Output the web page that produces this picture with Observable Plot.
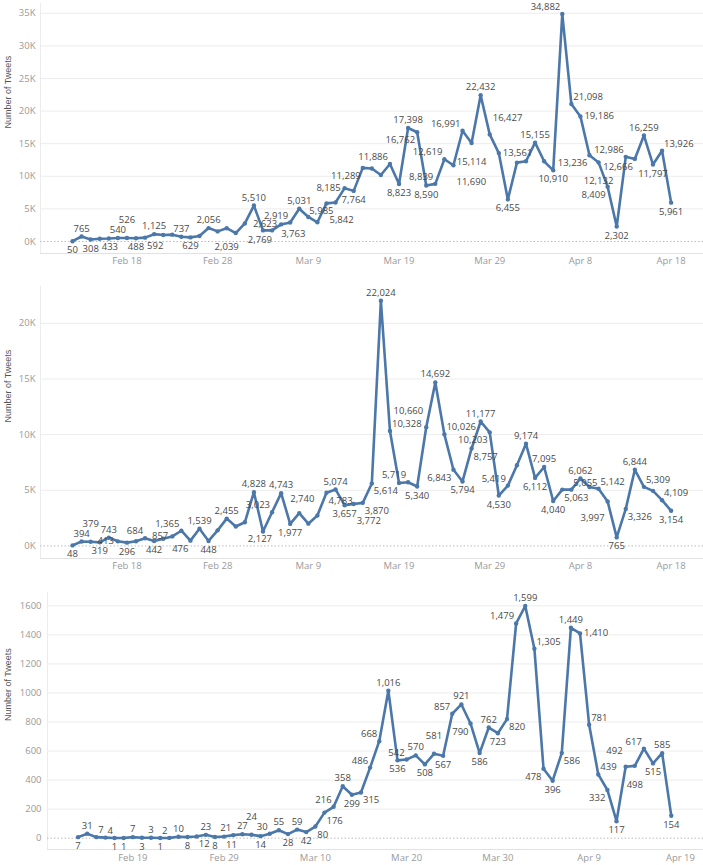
<!DOCTYPE html>
<html>
<head>
<meta charset="utf-8">
<script src="https://cdn.jsdelivr.net/npm/d3@7"></script>
<script src="https://cdn.jsdelivr.net/npm/@observablehq/plot@0.6"></script>
<style>
  body { margin: 0; background: #fff; }
  #chart { width: 703px; }
  #chart svg { display: block; }
</style>
</head>
<body>
<div id="chart"></div>
<script>
// ---------- Data ----------
const yTitle = "Number of Tweets";

// Panel 1 (daily, starting 2020-02-12)
const start1 = "2020-02-12";
const values1 = [50,765,308,433,470,540,526,488,592,1125,1000,1050,737,629,850,2056,1550,2039,
  1300,2769,5510,1700,1700,2623,2919,5031,3763,2950,5842,5985,8185,7764,11289,11200,10200,11886,8823,17398,16762,8590,8839,12619,11690,16991,15114,22432,16427,13561,6455,
  12100,12300,15155,12300,10910,34882,21098,19186,13236,12132,8409,2302,12986,12666,16259,11797,13926,5961];
const unlabeled1 = ["2020-02-16","2020-02-22","2020-02-23","2020-02-26","2020-02-28","2020-03-01","2020-03-04","2020-03-05","2020-03-10","2020-03-16","2020-03-17","2020-04-01","2020-04-02","2020-04-04"];
const xTicks1 = ["2020-02-18","2020-02-28","2020-03-09","2020-03-19","2020-03-29","2020-04-08","2020-04-18"];
const yTicks1 = [0,5000,10000,15000,20000,25000,30000,35000];

// Panel 2 (daily, starting 2020-02-12)
const start2 = "2020-02-12";
const values2 = [48,394,379,319,743,413,296,420,684,442,650,857,1365,476,1539,448,1400,2455,
  1750,2127,4828,1300,3023,4743,1977,2950,2000,2740,4783,5074,3657,3772,3870,5614,22024,10328,5650,5719,5340,10660,14692,10026,6843,5794,8757,11177,10203,4530,5419,
  7250,9174,6112,7095,4040,5063,5055,6062,5300,5142,3997,765,3326,6844,5309,4950,4109,3154];
const unlabeled2 = ["2020-02-19","2020-02-22","2020-02-28","2020-03-01","2020-03-04","2020-03-08","2020-03-09","2020-03-19","2020-04-01","2020-04-09","2020-04-16"];
const xTicks2 = ["2020-02-18","2020-02-28","2020-03-09","2020-03-19","2020-03-29","2020-04-08","2020-04-18"];
const yTicks2 = [0,5000,10000,15000,20000];

// Panel 3 (daily, starting 2020-02-13)
const start3 = "2020-02-13";
const values3 = [7,31,7,4,1,1,7,3,3,1,2,10,8,12,23,8,11,
  21,27,24,14,30,55,28,59,42,80,176,216,358,299,315,486,668,1016,536,542,570,508,581,567,857,921,790,586,762,723,820,
  1479,1599,1305,478,396,586,1449,1410,781,439,332,117,492,498,617,515,585,154];
const unlabeled3 = [];
const xTicks3 = ["2020-02-19","2020-02-29","2020-03-10","2020-03-20","2020-03-30","2020-04-09","2020-04-19"];
const yTicks3 = [0,200,400,600,800,1000,1200,1400,1600];

// ---------- Drawing ----------
const LINE = "#4b77a9";
const parse = s => new Date(s + "T00:00:00Z");
const DAY = 864e5;
const fmtKey = d3.utcFormat("%Y-%m-%d");
const fmtTick = d3.utcFormat("%b %-d");
const fmt = d3.format(",");
const FONT = "'Open Sans', sans-serif";
const LABEL_SIZE = 9.5;
const TICK_SIZE = 9.5;

// candidate label placements: offset from point, text anchor
const CANDS = {
  A:   {dx: 0,  dy: -8,  anchor: "middle"},
  B:   {dx: 0,  dy: 9,   anchor: "middle"},
  L:   {dx: -4, dy: 0,   anchor: "end"},
  R:   {dx: 4,  dy: 0,   anchor: "start"},
  UL:  {dx: -2, dy: -7,  anchor: "end"},
  UR:  {dx: 2,  dy: -7,  anchor: "start"},
  LL:  {dx: -2, dy: 8,   anchor: "end"},
  LR:  {dx: 2,  dy: 8,   anchor: "start"},
  A2:  {dx: 0,  dy: -18, anchor: "middle"},
  B2:  {dx: 0,  dy: 19,  anchor: "middle"},
  UL2: {dx: -3, dy: -16, anchor: "end"},
  UR2: {dx: 3,  dy: -16, anchor: "start"},
  LL2: {dx: -3, dy: 17,  anchor: "end"},
  LR2: {dx: 3,  dy: 17,  anchor: "start"}
};
const ORDER = {
  peak:    ["A", "UL", "UR", "L", "R", "LL", "LR", "B", "A2", "UL2", "UR2", "B2", "LL2", "LR2"],
  valley:  ["B", "LL", "LR", "L", "R", "UL", "UR", "A", "B2", "LL2", "LR2", "A2", "UL2", "UR2"],
  rising:  ["UL", "L", "LR", "A", "B", "R", "UR", "LL", "UL2", "LR2", "A2", "B2", "UR2", "LL2"],
  falling: ["UR", "R", "LL", "A", "B", "L", "UL", "LR", "UR2", "LL2", "A2", "B2", "UL2", "LR2"]
};

function segHitsRect(x1, y1, x2, y2, r) {
  let t0 = 0, t1 = 1;
  const dx = x2 - x1, dy = y2 - y1;
  const p = [-dx, dx, -dy, dy];
  const q = [x1 - r.x0, r.x1 - x1, y1 - r.y0, r.y1 - y1];
  for (let i = 0; i < 4; i++) {
    if (p[i] === 0) { if (q[i] < 0) return false; }
    else {
      const t = q[i] / p[i];
      if (p[i] < 0) { if (t > t1) return false; if (t > t0) t0 = t; }
      else { if (t < t0) return false; if (t < t1) t1 = t; }
    }
  }
  return true;
}
function overlapArea(a, b) {
  const w = Math.min(a.x1, b.x1) - Math.max(a.x0, b.x0);
  const h = Math.min(a.y1, b.y1) - Math.max(a.y0, b.y0);
  return w > 0 && h > 0 ? w * h : 0;
}

function placeLabels(data, xs, ys, bounds, obstacles) {
  const ctx = document.createElement("canvas").getContext("2d");
  ctx.font = LABEL_SIZE + "px " + FONT;
  const pts = data.map(d => [xs.apply(d.date), ys.apply(d.v)]);
  const placed = obstacles.slice();
  const idx = data.map((d, i) => i).filter(i => data[i].show);
  const prom = i => {
    const p = i > 0 ? pts[i - 1][1] : pts[i][1], n = i < pts.length - 1 ? pts[i + 1][1] : pts[i][1];
    return Math.abs(pts[i][1] - p) + Math.abs(pts[i][1] - n);
  };
  idx.sort((a, b) => {
    const ea = data[a].shape === "peak" || data[a].shape === "valley";
    const eb = data[b].shape === "peak" || data[b].shape === "valley";
    if (ea !== eb) return ea ? -1 : 1;
    return prom(b) - prom(a);
  });
  const half = LABEL_SIZE * 0.66;
  for (const i of idx) {
    const d = data[i];
    const w = ctx.measureText(fmt(d.v)).width + 2;
    const [px, py] = pts[i];
    let best = null, bestCost = Infinity;
    ORDER[d.shape].forEach((k, rank) => {
      const c = CANDS[k];
      const x = px + c.dx, y = py + c.dy;
      const x0 = c.anchor === "middle" ? x - w / 2 : c.anchor === "end" ? x - w : x;
      const r = {x0, x1: x0 + w, y0: y - half, y1: y + half};
      let cost = rank * 0.8;
      for (const q of placed) cost += overlapArea(r, q) * 20;
      const core = {x0: r.x0, x1: r.x1, y0: y - 3.5, y1: y + 3.5};
      for (let j = 1; j < pts.length; j++) {
        if (segHitsRect(pts[j - 1][0], pts[j - 1][1], pts[j][0], pts[j][1], core)) cost += 30;
      }
      for (const q of pts) {
        if (q[0] > core.x0 - 2 && q[0] < core.x1 + 2 && q[1] > core.y0 - 2 && q[1] < core.y1 + 2) cost += 15;
      }
      if (r.x0 < bounds.x0 || r.x1 > bounds.x1 || r.y0 < bounds.y0 || r.y1 > bounds.y1) cost += 300;
      if (cost < bestCost) { bestCost = cost; best = {k, r}; }
    });
    d.pos = best.k;
    placed.push(best.r);
  }
}

function panel(cfg) {
  const s = parse(cfg.start);
  const data = cfg.values.map((v, i) => ({date: d3.utcDay.offset(s, i), v}));
  const hide = new Set(cfg.unlabeled);
  data.forEach((d, i) => {
    const p = i > 0 ? data[i - 1].v : null;
    const n = i < data.length - 1 ? data[i + 1].v : null;
    d.show = !hide.has(fmtKey(d.date));
    if ((p === null || d.v >= p) && (n === null || d.v >= n)) d.shape = "peak";
    else if ((p === null || d.v <= p) && (n === null || d.v <= n)) d.shape = "valley";
    else if (p < d.v) d.shape = "rising";
    else d.shape = "falling";
  });
  const xDomain = [new Date(+s - cfg.padL * DAY), new Date(+s + cfg.padR * DAY)];
  const tickDates = cfg.xTicks.map(parse);
  const base = {
    width: 703,
    height: cfg.height,
    marginLeft: cfg.ml, marginRight: 0, marginTop: cfg.mt, marginBottom: cfg.mb,
    style: {fontFamily: FONT, fontSize: "10px", background: "#fff", overflow: "visible"},
    x: {type: "utc", domain: xDomain},
    y: {domain: cfg.yDomain}
  };
  const baseMarks = [
    Plot.gridY(cfg.yTicks.filter(t => t !== 0), {stroke: "#ececec", strokeOpacity: 1}),
    Plot.ruleX([xDomain[0]], {stroke: "#ececec"}),
    Plot.ruleY([cfg.yDomain[0]], {stroke: "#e2e2e2"}),
    Plot.ruleY([0], {stroke: "#bdbdbd", strokeDasharray: "1.5,2"}),
    Plot.axisY({ticks: cfg.yTicks, tickFormat: cfg.yFmt, tickSize: 0, tickPadding: cfg.yPad, color: "#9a9a9a", fontSize: TICK_SIZE, label: null}),
    Plot.axisX({ticks: tickDates, tickFormat: fmtTick, tickSize: 0, tickPadding: cfg.xPad, color: "#9a9a9a", fontSize: TICK_SIZE, label: null}),
    Plot.text([yTitle], {frameAnchor: "left", text: d => d, rotate: -90, dx: cfg.titleDx, fill: "#555", fontSize: 9, fontFamily: "'Liberation Sans Narrow', 'Liberation Sans', sans-serif"}),
    Plot.line(data, {x: "date", y: "v", stroke: LINE, strokeWidth: 2.6, strokeLinejoin: "round"}),
    Plot.dot(data, {x: "date", y: "v", r: 2.2, fill: LINE, stroke: null})
  ];
  const probe = Plot.plot({...base, marks: baseMarks});
  const xs = probe.scale("x"), ys = probe.scale("y");
  // x tick labels act as obstacles for the data labels
  const ctx = document.createElement("canvas").getContext("2d");
  ctx.font = TICK_SIZE + "px " + FONT;
  const axisTop = cfg.height - cfg.mb + cfg.xPad;
  const obstacles = tickDates.map(t => {
    const w = ctx.measureText(fmtTick(t)).width + 2, cx = xs.apply(t);
    return {x0: cx - w / 2, x1: cx + w / 2, y0: axisTop, y1: axisTop + 12};
  });
  placeLabels(data, xs, ys, {x0: 0, x1: 703, y0: 0, y1: cfg.height - cfg.mb + 6}, obstacles);
  const txt = {x: "date", y: "v", text: d => fmt(d.v), fill: "#4a4a4a", fontSize: LABEL_SIZE};
  const labelMarks = Object.entries(CANDS).map(([k, c]) =>
    Plot.text(data.filter(d => d.show && d.pos === k), {...txt, dx: c.dx, dy: c.dy, textAnchor: c.anchor})
  );
  return Plot.plot({...base, marks: [...baseMarks, ...labelMarks]});
}

const root = document.getElementById("chart");
root.append(panel({
  start: start1, values: values1, unlabeled: unlabeled1, xTicks: xTicks1, yTicks: yTicks1,
  yFmt: d => d / 1000 + "K", yDomain: [-1840, 36500], padL: 3.53, padR: 69.57,
  height: 272, mt: 3, mb: 19, ml: 40, yPad: 5, xPad: 4, titleDx: -32
}));
root.append(panel({
  start: start2, values: values2, unlabeled: unlabeled2, xTicks: xTicks2, yTicks: yTicks2,
  yFmt: d => d / 1000 + "K", yDomain: [-1130, 23310], padL: 3.53, padR: 69.57,
  height: 305, mt: 14, mb: 19, ml: 40, yPad: 5, xPad: 4, titleDx: -32
}));
root.append(panel({
  start: start3, values: values3, unlabeled: unlabeled3, xTicks: xTicks3, yTicks: yTicks3,
  yFmt: d3.format("d"), yDomain: [-78, 1692], padL: 3.35, padR: 68.53,
  height: 288, mt: 15, mb: 16, ml: 47, yPad: 6, xPad: 5, titleDx: -39
}));
</script>
</body>
</html>
